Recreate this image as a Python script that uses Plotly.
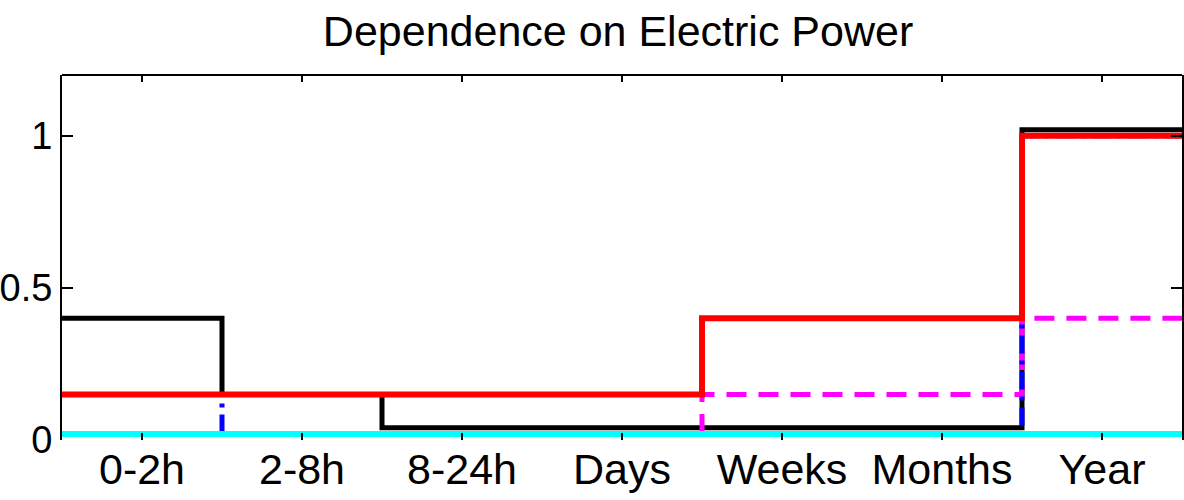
import plotly.graph_objects as go

categories = ["0-2h", "2-8h", "8-24h", "Days", "Weeks", "Months", "Year"]
black_vals = [0.40, 0.15, 0.04, 0.04, 0.04, 0.04, 1.02]
magenta_vals = [0.02, 0.02, 0.02, 0.02, 0.15, 0.15, 0.40]
blue_vals = [0.15, 0.02, 0.02, 0.02, 0.02, 0.02, 1.00]
red_vals = [0.15, 0.15, 0.15, 0.15, 0.40, 0.40, 1.00]
cyan_vals = [0.02, 0.02, 0.02, 0.02, 0.02, 0.02, 0.02]
y_tickvals = [0, 0.5, 1]
y_ticktext = ["0", "0.5", "1"]

positions = list(range(1, len(categories) + 1))
edges = [p - 0.5 for p in positions] + [positions[-1] + 0.5]

def stairs(vals):
    return edges, list(vals) + [vals[-1]]

series = [
    (black_vals, "black", 5, "solid"),
    (magenta_vals, "#ff00ff", 5, "20px,12px"),
    (blue_vals, "#0000ff", 5, "18px,7px,4px,7px"),
    (red_vals, "#ff0000", 6, "solid"),
    (cyan_vals, "#00ffff", 6, "solid"),
]

fig = go.Figure()
for vals, color, w, dash in series:
    xs, ys = stairs(vals)
    fig.add_trace(go.Scatter(x=xs, y=ys, mode="lines", line_shape="hv",
                             line=dict(color=color, width=w, dash=dash),
                             showlegend=False, hoverinfo="skip", cliponaxis=True))

font_family = "Liberation Sans, Arial, Helvetica, sans-serif"
fig.update_layout(
    width=1184, height=500,
    margin=dict(l=62, r=2, t=75, b=60, autoexpand=False),
    paper_bgcolor="white", plot_bgcolor="white",
    title=dict(text="Dependence on Electric Power", x=0.522, xanchor="center",
               y=0.938, yanchor="middle", automargin=False,
               font=dict(family=font_family, size=43, color="black")),
    font=dict(family=font_family, color="black"),
    xaxis=dict(range=[0.5, 7.5], tickvals=positions, ticktext=categories,
               ticks="inside", ticklen=7, tickcolor="black", tickwidth=2,
               showline=False, mirror="ticks", showgrid=False, zeroline=False,
               automargin=False,
               tickfont=dict(size=43, family=font_family, color="black")),
    yaxis=dict(range=[0, 1.2], tickvals=y_tickvals, ticktext=y_ticktext,
               ticks="inside", ticklen=11, tickcolor="black", tickwidth=2,
               showline=True, linecolor="black", linewidth=2, mirror="ticks",
               showgrid=False, zeroline=False, automargin=False,
               ticklabelstandoff=0,
               tickfont=dict(size=38, family=font_family, color="black")),
    shapes=[dict(type="line", xref="paper", yref="paper", x0=0, x1=1, y0=1, y1=1,
                 line=dict(color="black", width=2))],
)
fig.write_html("out.html", config={"displayModeBar": False},
               post_script="document.body.style.margin='0';document.body.style.overflow='hidden';")
